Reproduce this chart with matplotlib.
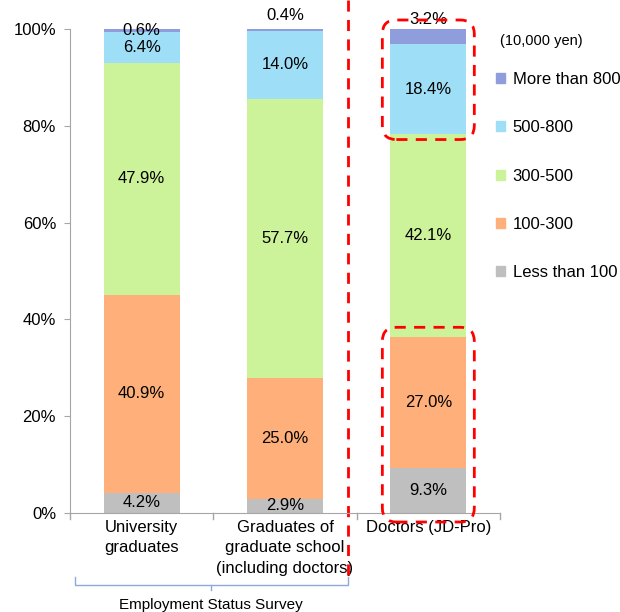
import numpy as np
import matplotlib.pyplot as plt
from matplotlib.patches import Patch, FancyBboxPatch
from matplotlib.transforms import IdentityTransform

plt.rcParams['font.family'] = ['Liberation Sans', 'DejaVu Sans']
plt.rcParams['font.size'] = 12

groups = ["University\ngraduates",
          "Graduates of\ngraduate school\n(including doctors)",
          "Doctors (JD-Pro)"]
brackets = ["Less than 100", "100-300", "300-500", "500-800", "More than 800"]
less_100 = [4.2, 2.9, 9.3]
r100_300 = [40.9, 25.0, 27.0]
r300_500 = [47.9, 57.7, 42.1]
r500_800 = [6.4, 14.0, 18.4]
more_800 = [0.6, 0.4, 3.2]
series = [less_100, r100_300, r300_500, r500_800, more_800]
colors = ["#BFBFBF", "#FFB07A", "#CCF29A", "#9EDFF7", "#8F9DDC"]

fig = plt.figure(figsize=(6.2, 6.12), dpi=100)
ax = fig.add_axes([70/620, 99/612, 430/620, 484/612])

x = np.arange(len(groups))
width = 0.53
bottom = np.zeros(len(groups))
for k, (vals, col) in enumerate(zip(series, colors)):
    ax.bar(x, vals, width, bottom=bottom, color=col, edgecolor='none')
    if k < len(series) - 1:
        for i, v in enumerate(vals):
            ax.text(x[i], bottom[i] + v / 2, f"{v:.1f}%", ha='center', va='center')
    bottom += np.array(vals)

# the thin top segments get their labels nudged upward
ax.text(x[0], 99.7, f"{more_800[0]:.1f}%", ha='center', va='center')
ax.text(x[1], 100 + 2.7, f"{more_800[1]:.1f}%", ha='center', va='center')
ax.text(x[2], 100 + 2.0, f"{more_800[2]:.1f}%", ha='center', va='center')

ax.set_xlim(-0.5, 2.5)
ax.set_ylim(0, 100)
ax.set_yticks(np.arange(0, 101, 20))
ax.set_yticklabels([f"{t}%" for t in range(0, 101, 20)])
ax.set_xticks(x)
ax.set_xticklabels(groups)
for lbl in ax.get_xticklabels():
    lbl.set_linespacing(1.45)
ax.tick_params(axis='x', length=0, pad=5)
ax.tick_params(axis='y', length=4, color='#A6A6A6', pad=6)
# boundary ticks below x axis
for b in [-0.5, 0.5, 1.5, 2.5]:
    ax.plot([b, b], [0, -1.2], color='#A6A6A6', lw=1, clip_on=False)
for s in ['top', 'right']:
    ax.spines[s].set_visible(False)
for s in ['left', 'bottom']:
    ax.spines[s].set_color('#A6A6A6')

# vertical separator
sep = 1.437
trans = ax.get_xaxis_transform()
ax.plot([sep, sep], [1.06, -0.128], transform=trans, color='red', lw=2,
        ls=(0, (4, 3)), clip_on=False)

# bracket under the survey groups
by, bt, bc = -0.149, -0.132, -0.159
bc_x = 0.486
ax.plot([-0.465, -0.465, 1.437, 1.437], [bt, by, by, bt], transform=trans,
        color='#8EA9DB', lw=1, clip_on=False)
ax.plot([bc_x, bc_x], [by, bc], transform=trans, color='#8EA9DB', lw=1, clip_on=False)
ax.text(bc_x, -0.19, "Employment Status Survey", transform=trans,
        ha='center', va='center', fontsize=11)

# highlight boxes around the doctors' bar
def box(y0, y1, pad_x=8, pad_lo=7, pad_hi=9):
    (px0, py0) = ax.transData.transform((x[2] - width / 2, y0))
    (px1, py1) = ax.transData.transform((x[2] + width / 2, y1))
    p = FancyBboxPatch((px0 - pad_x, py0 - pad_lo), px1 - px0 + 2 * pad_x,
                       py1 - py0 + pad_lo + pad_hi,
                       boxstyle="round,pad=0,rounding_size=14",
                       transform=IdentityTransform(), fill=False,
                       ec='red', lw=2, ls=(0, (4, 3)), clip_on=False)
    fig.patches.append(p)

top_start = less_100[2] + r100_300[2] + r300_500[2]
box(top_start, 100, pad_lo=6, pad_hi=9)
box(0, less_100[2] + r100_300[2], pad_lo=9, pad_hi=10)

handles = [Patch(color=c) for c in colors][::-1]
fig.legend(handles, brackets[::-1], loc='upper left',
           bbox_to_anchor=(481/620, 1 - 57/612), frameon=False,
           handlelength=0.55, handleheight=0.55, handletextpad=0.45,
           labelspacing=2.0, fontsize=12)
fig.text(500/620, 1 - 41/612, "(10,000 yen)", fontsize=10.5, va='center')

fig.savefig("out.png", dpi=100)
